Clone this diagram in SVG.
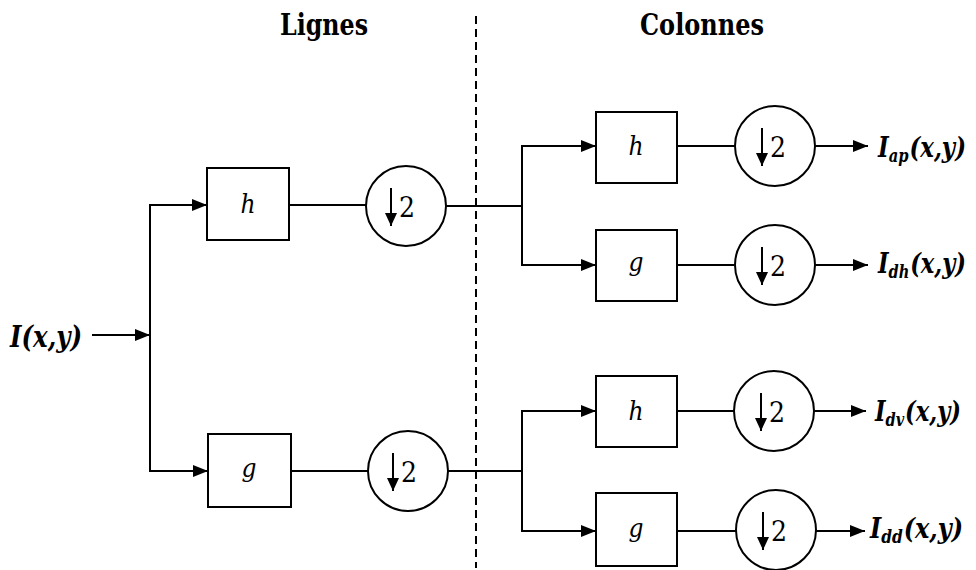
<svg xmlns="http://www.w3.org/2000/svg" width="976" height="570" viewBox="0 0 976 570">
  <defs>
    <marker id="arrow" markerWidth="16" markerHeight="12" refX="15" refY="6" orient="auto" markerUnits="userSpaceOnUse">
      <path d="M0,0 L15,6 L0,12 Z" fill="#000"/>
    </marker>
    <marker id="down" markerWidth="14" markerHeight="12" refX="13" refY="6" orient="auto" markerUnits="userSpaceOnUse">
      <path d="M0,0 L13,6 L0,12 Z" fill="#000"/>
    </marker>
    <!-- downsampling symbol: arrow pointing down, the "2" goes next to it -->
    <g id="dn">
      <line x1="0" y1="-19" x2="0" y2="19" stroke="#000" stroke-width="2" marker-end="url(#down)"/>
    </g>
    <style>
      .box { fill: #fff; stroke: #000; stroke-width: 2; }
      .dec { fill: #fff; stroke: #000; stroke-width: 2; }
      .wire { fill: none; stroke: #000; stroke-width: 2; }
      .arr { fill: none; stroke: #000; stroke-width: 2; marker-end: url(#arrow); }
      .sep { fill: none; stroke: #000; stroke-width: 2; stroke-dasharray: 8 5; }
      text { font-family: "DejaVu Serif Condensed", "DejaVu Serif", serif; fill: #000; }
      .title { font-weight: bold; font-size: 30px; }
      .sig { font-weight: bold; font-style: italic; font-size: 30px; }
      .out { font-weight: bold; font-style: italic; font-size: 28px; }
      .sub { font-size: 18px; }
      .flt { font-style: italic; font-size: 26px; text-anchor: middle; }
      .ds { font-size: 28px; }
    </style>
  </defs>

  <!-- section separator and headings -->
  <line class="sep" x1="476" y1="16" x2="476" y2="568"/>
  <text class="title" x="280" y="35" textLength="88" lengthAdjust="spacingAndGlyphs">Lignes</text>
  <text class="title" x="640" y="35" textLength="124" lengthAdjust="spacingAndGlyphs">Colonnes</text>

  <!-- connectors -->
  <g id="connectors">
    <line class="arr" x1="92" y1="335" x2="150" y2="335"/>
    <line class="wire" x1="150" y1="205" x2="150" y2="471"/>
    <line class="arr" x1="149" y1="205" x2="207" y2="205"/>
    <line class="arr" x1="149" y1="471" x2="208" y2="471"/>
    <line class="wire" x1="289" y1="205" x2="366" y2="205"/>
    <line class="wire" x1="291" y1="471" x2="368" y2="471"/>
    <line class="wire" x1="446" y1="206" x2="522" y2="206"/>
    <line class="wire" x1="448" y1="471" x2="522" y2="471"/>
    <line class="wire" x1="522" y1="146" x2="522" y2="265"/>
    <line class="wire" x1="522" y1="411" x2="522" y2="531"/>
    <line class="arr" x1="521" y1="146" x2="596" y2="146"/>
    <line class="arr" x1="521" y1="265" x2="596" y2="265"/>
    <line class="arr" x1="521" y1="411" x2="596" y2="411"/>
    <line class="arr" x1="521" y1="531" x2="596" y2="531"/>
    <line class="wire" x1="677" y1="146" x2="735" y2="146"/>
    <line class="wire" x1="677" y1="265" x2="735" y2="265"/>
    <line class="wire" x1="677" y1="411" x2="734" y2="411"/>
    <line class="wire" x1="677" y1="531" x2="736" y2="531"/>
    <line class="arr" x1="815" y1="146" x2="868" y2="146"/>
    <line class="arr" x1="815" y1="265" x2="868" y2="265"/>
    <line class="arr" x1="814" y1="411" x2="866" y2="411"/>
    <line class="arr" x1="816" y1="531" x2="865" y2="531"/>
  </g>

  <!-- input -->
  <text class="sig" x="10" y="347" textLength="72" lengthAdjust="spacingAndGlyphs">I(x,y)</text>

  <!-- row filtering -->
  <g id="row-h">
    <rect class="box" x="207" y="168" width="82" height="72"/>
    <text class="flt" x="248" y="213">h</text>
  </g>
  <g id="row-h-down">
    <circle class="dec" cx="406" cy="206" r="40"/>
    <use href="#dn" x="391" y="207"/>
    <text class="ds" x="399" y="217">2</text>
  </g>
  <g id="row-g">
    <rect class="box" x="208" y="434" width="83" height="73"/>
    <text class="flt" x="249" y="477">g</text>
  </g>
  <g id="row-g-down">
    <circle class="dec" cx="408" cy="471" r="40"/>
    <use href="#dn" x="393" y="472"/>
    <text class="ds" x="401" y="482">2</text>
  </g>

  <!-- column filtering -->
  <g id="col-hh">
    <rect class="box" x="596" y="112" width="81" height="71"/>
    <text class="flt" x="636" y="155">h</text>
  </g>
  <g id="col-hh-down">
    <circle class="dec" cx="775" cy="146" r="40"/>
    <use href="#dn" x="762" y="147"/>
    <text class="ds" x="770" y="157">2</text>
  </g>
  <g id="col-hg">
    <rect class="box" x="596" y="230" width="81" height="71"/>
    <text class="flt" x="636" y="271">g</text>
  </g>
  <g id="col-hg-down">
    <circle class="dec" cx="775" cy="265" r="40"/>
    <use href="#dn" x="762" y="266"/>
    <text class="ds" x="770" y="276">2</text>
  </g>
  <g id="col-gh">
    <rect class="box" x="596" y="376" width="81" height="71"/>
    <text class="flt" x="636" y="420">h</text>
  </g>
  <g id="col-gh-down">
    <circle class="dec" cx="774" cy="411" r="40"/>
    <use href="#dn" x="761" y="412"/>
    <text class="ds" x="769" y="422">2</text>
  </g>
  <g id="col-gg">
    <rect class="box" x="596" y="493" width="81" height="73"/>
    <text class="flt" x="636" y="537">g</text>
  </g>
  <g id="col-gg-down">
    <circle class="dec" cx="776" cy="530" r="40"/>
    <use href="#dn" x="763" y="531"/>
    <text class="ds" x="771" y="541">2</text>
  </g>

  <!-- outputs -->
  <text class="out" x="878" y="157" textLength="88" lengthAdjust="spacingAndGlyphs">I<tspan class="sub" dy="5">ap</tspan><tspan dx="1" dy="-5">(x,y)</tspan></text>
  <text class="out" x="878" y="273" textLength="88" lengthAdjust="spacingAndGlyphs">I<tspan class="sub" dy="5">dh</tspan><tspan dx="1" dy="-5">(x,y)</tspan></text>
  <text class="out" x="875" y="421" textLength="86" lengthAdjust="spacingAndGlyphs">I<tspan class="sub" dy="5">dv</tspan><tspan dx="1" dy="-5">(x,y)</tspan></text>
  <text class="out" x="870" y="538" textLength="93" lengthAdjust="spacingAndGlyphs">I<tspan class="sub" dy="5">dd</tspan><tspan dx="1" dy="-5">(x,y)</tspan></text>
</svg>
